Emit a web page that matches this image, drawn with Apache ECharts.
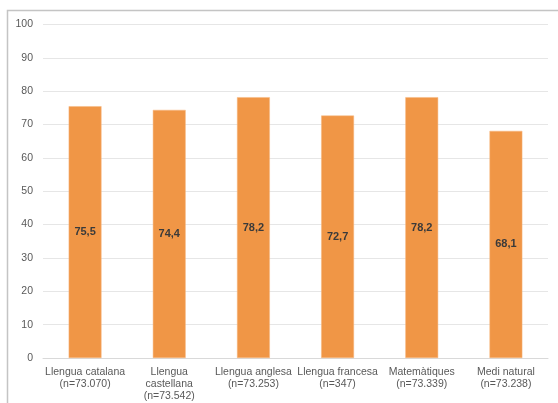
<!DOCTYPE html>
<html><head><meta charset="utf-8">
<script src="https://cdn.jsdelivr.net/npm/echarts@6/dist/echarts.min.js"></script>
<style>html,body{margin:0;padding:0;background:#fff}#c{width:558px;height:403px}</style>
</head><body><div id="c"></div>
<script>
const categories = ['Llengua catalana\n(n=73.070)', 'Llengua\ncastellana\n(n=73.542)', 'Llengua anglesa\n(n=73.253)', 'Llengua francesa\n(n=347)', 'Matemàtiques\n(n=73.339)', 'Medi natural\n(n=73.238)'];
const values = [75.5, 74.4, 78.2, 72.7, 78.2, 68.1];
const yTicks = [0, 10, 20, 30, 40, 50, 60, 70, 80, 90, 100];

const chart = echarts.init(document.getElementById('c'), null, {renderer: 'canvas'});
chart.setOption({
  animation: false,
  backgroundColor: '#fff',
  graphic: [{
    type: 'polyline', silent: true,
    shape: {points: [[7.5, 403], [7.5, 10.5], [558, 10.5]]},
    style: {stroke: '#c4c4c4', lineWidth: 1.5, fill: null}
  }],
  grid: {left: 43, right: 10, top: 24.5, bottom: 45, containLabel: false},
  xAxis: {
    type: 'category', data: categories,
    axisLine: {lineStyle: {color: '#d9d9d9', width: 1}},
    axisTick: {show: false},
    axisLabel: {color: '#595959', fontSize: 10.5, fontFamily: 'Liberation Sans, Arial, sans-serif', lineHeight: 12, margin: 8, interval: 0}
  },
  yAxis: {
    type: 'value', min: yTicks[0], max: yTicks[yTicks.length - 1], interval: 10,
    axisLine: {show: false}, axisTick: {show: false},
    splitLine: {lineStyle: {color: '#e6e6e6', width: 1}},
    axisLabel: {color: '#595959', fontSize: 10.5, fontFamily: 'Liberation Sans, Arial, sans-serif', margin: 10}
  },
  series: [{
    type: 'bar', data: values, barWidth: '39%',
    itemStyle: {color: '#f09646', borderColor: '#f6b880', borderWidth: 0.5},
    label: {
      show: true, position: 'inside', color: '#3a3a3a', fontWeight: 'bold', fontSize: 11,
      fontFamily: 'Liberation Sans, Arial, sans-serif',
      formatter: p => p.value.toFixed(1).replace('.', ',')
    }
  }]
});
</script></body></html>
